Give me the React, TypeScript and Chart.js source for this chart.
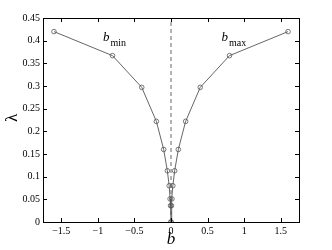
import React, { useEffect, useRef } from "react";
import { Chart, registerables } from "chart.js";

Chart.register(...registerables);

const leftB = [-1.6, -0.8, -0.4, -0.2, -0.1, -0.05, -0.025, -0.0125, -0.00625, 0];
const leftL = [0.42, 0.367, 0.297, 0.222, 0.16, 0.113, 0.08, 0.051, 0.036, 0];
const rightB = [0, 0.00625, 0.0125, 0.025, 0.05, 0.1, 0.2, 0.4, 0.8, 1.6];
const rightL = [0, 0.036, 0.051, 0.08, 0.113, 0.16, 0.222, 0.297, 0.367, 0.42];
const xTicks = [-1.5, -1, -0.5, 0, 0.5, 1, 1.5];
const xTickLabels = ["\u22121.5", "\u22121", "\u22120.5", "0", "0.5", "1", "1.5"];
const yTicks = [0, 0.05, 0.1, 0.15, 0.2, 0.25, 0.3, 0.35, 0.4, 0.45];
const yTickLabels = ["0", "0.05", "0.1", "0.15", "0.2", "0.25", "0.3", "0.35", "0.4", "0.45"];
const annotations = [
  { b: -0.93, l: 0.4, sub: "min" },
  { b: 0.69, l: 0.4, sub: "max" },
];

const FONT = "'Liberation Serif', 'DejaVu Serif', serif";
const LINE = "#555555";

const framePlugin = {
  id: "frame",
  afterDraw(chart: any) {
    const { ctx, chartArea: a, scales } = chart;
    const x = scales.x;
    const y = scales.y;
    ctx.save();
    ctx.strokeStyle = "#000";
    ctx.lineWidth = 1;
    ctx.strokeRect(Math.round(a.left) + 0.5, Math.round(a.top) + 0.5, Math.round(a.right - a.left), Math.round(a.bottom - a.top));
    const tl = 4;
    ctx.beginPath();
    xTicks.forEach((v) => {
      const px = Math.round(x.getPixelForValue(v)) + 0.5;
      ctx.moveTo(px, a.bottom);
      ctx.lineTo(px, a.bottom - tl);
      ctx.moveTo(px, a.top);
      ctx.lineTo(px, a.top + tl);
    });
    yTicks.forEach((v) => {
      const py = Math.round(y.getPixelForValue(v)) + 0.5;
      ctx.moveTo(a.left, py);
      ctx.lineTo(a.left + tl, py);
      ctx.moveTo(a.right, py);
      ctx.lineTo(a.right - tl, py);
    });
    ctx.stroke();

    ctx.fillStyle = "#000";
    annotations.forEach((an) => {
      const px = x.getPixelForValue(an.b);
      const py = y.getPixelForValue(an.l);
      ctx.font = `italic 13px ${FONT}`;
      ctx.textAlign = "left";
      ctx.textBaseline = "alphabetic";
      ctx.fillText("b", px, py);
      const w = ctx.measureText("b").width;
      ctx.font = `10px ${FONT}`;
      ctx.fillText(an.sub, px + w + 1, py + 5);
    });

    ctx.font = `italic 17px ${FONT}`;
    ctx.textAlign = "center";
    ctx.textBaseline = "middle";
    ctx.fillText("b", x.getPixelForValue(0), 240);

    ctx.translate(13, 118);
    ctx.rotate(-Math.PI / 2);
    ctx.font = `17px ${FONT}`;
    ctx.fillText("\u03bb", 0, 0);
    ctx.restore();
  },
};

export default function App() {
  const ref = useRef<HTMLCanvasElement>(null);
  useEffect(() => {
    document.body.style.margin = "0";
    const ds = (bs: number[], ls: number[]) => ({
      data: bs.map((b, i) => ({ x: b, y: ls[i] })),
      borderColor: LINE,
      borderWidth: 0.9,
      pointRadius: 2.3,
      pointBorderWidth: 0.8,
      pointBorderColor: LINE,
      pointBackgroundColor: "rgba(0,0,0,0)",
      showLine: true,
      tension: 0,
    });
    const chart = new Chart(ref.current!, {
      type: "scatter",
      data: {
        datasets: [
          {
            data: [{ x: 0, y: 0 }, { x: 0, y: 0.45 }],
            borderColor: LINE,
            borderWidth: 0.9,
            borderDash: [4, 3],
            pointRadius: 0,
            showLine: true,
          } as any,
          ds(leftB, leftL),
          ds(rightB, rightL),
        ],
      },
      options: {
        responsive: false,
        animation: false,
        layout: { padding: { left: 0, right: 33, top: 18, bottom: 0 } },
        plugins: { legend: { display: false }, tooltip: { enabled: false } },
        scales: {
          x: {
            type: "linear",
            min: -1.75,
            max: 1.75,
            afterBuildTicks: (axis: any) => {
              axis.ticks = xTicks.map((v) => ({ value: v }));
            },
            afterFit: (axis: any) => {
              axis.height = 28;
            },
            grid: { display: false, drawTicks: false },
            border: { display: false },
            ticks: {
              color: "#000",
              font: { family: FONT, size: 10 },
              padding: 3,
              maxRotation: 0,
              autoSkip: false,
              callback: (v: any) => {
                const i = xTicks.findIndex((t) => Math.abs(t - v) < 1e-9);
                return i >= 0 ? xTickLabels[i] : "";
              },
            },
          },
          y: {
            type: "linear",
            min: 0,
            max: 0.45,
            afterBuildTicks: (axis: any) => {
              axis.ticks = yTicks.map((v) => ({ value: v }));
            },
            afterFit: (axis: any) => {
              axis.width = 43;
            },
            grid: { display: false, drawTicks: false },
            border: { display: false },
            ticks: {
              color: "#000",
              font: { family: FONT, size: 10 },
              padding: 3,
              autoSkip: false,
              callback: (v: any) => {
                const i = yTicks.findIndex((t) => Math.abs(t - v) < 1e-9);
                return i >= 0 ? yTickLabels[i] : "";
              },
            },
          },
        },
      },
      plugins: [framePlugin],
    });
    return () => chart.destroy();
  }, []);
  return (
    <div style={{ position: "fixed", left: 0, top: 0, width: 332, height: 250, background: "#fff" }}>
      <canvas ref={ref} width={332} height={250} />
    </div>
  );
}
